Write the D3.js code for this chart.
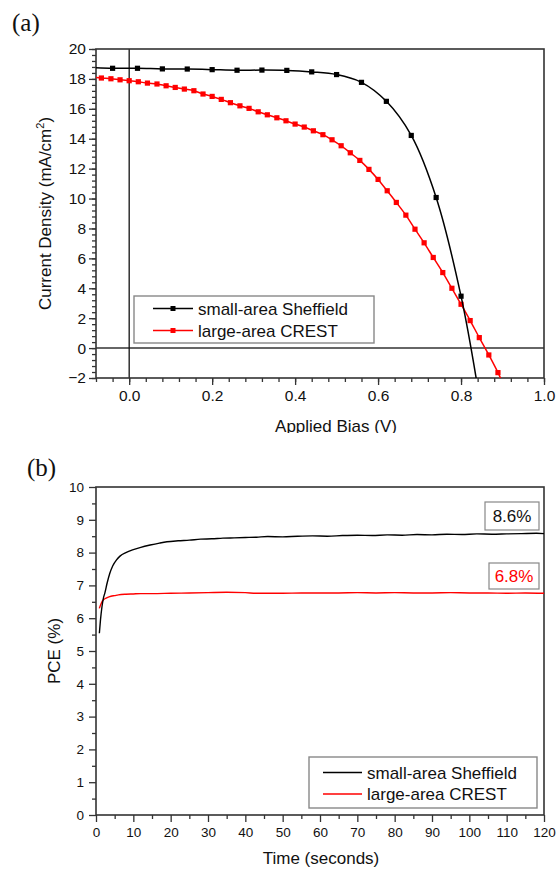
<!DOCTYPE html>
<html><head><meta charset="utf-8">
<script src="https://cdn.jsdelivr.net/npm/d3@7"></script>
<style>
body{margin:0;background:#fff;}
svg{font-family:"Liberation Sans",Arial,sans-serif;}
</style></head>
<body><svg id="c" width="556" height="869"></svg>
<script>
// ---------- Panel (a) data: J-V curves ----------
const seriesNames = ["small-area Sheffield", "large-area CREST"];
const seriesColors = ["#000000", "#ff0000"];

// small-area Sheffield: marker points
const sheffV = [-0.04, 0.02, 0.08, 0.14, 0.20, 0.26, 0.32, 0.38, 0.44, 0.50, 0.56, 0.62, 0.68, 0.74, 0.80];
const sheffJ = [18.71, 18.71, 18.67, 18.66, 18.62, 18.58, 18.59, 18.57, 18.47, 18.29, 17.77, 16.50, 14.22, 10.07, 3.47];
// line continues beyond markers at both ends
const sheffLineStart = [-0.08, 18.74];
const sheffLineEnd = [0.84, -2.6];

// large-area CREST
const crestV = [-0.067, -0.044, -0.022, 0.000, 0.022, 0.044, 0.067, 0.089, 0.111, 0.133, 0.156, 0.178, 0.200, 0.222, 0.244, 0.267, 0.289, 0.311, 0.333, 0.356, 0.378, 0.400, 0.422, 0.444, 0.467, 0.489, 0.511, 0.533, 0.556, 0.578, 0.600, 0.622, 0.644, 0.667, 0.689, 0.711, 0.733, 0.756, 0.778, 0.800, 0.822, 0.844, 0.867, 0.889];
const crestJ = [18.06, 18.01, 17.94, 17.88, 17.81, 17.72, 17.66, 17.54, 17.43, 17.32, 17.21, 16.99, 16.83, 16.63, 16.41, 16.20, 16.03, 15.80, 15.60, 15.40, 15.20, 14.98, 14.78, 14.53, 14.27, 13.93, 13.53, 13.06, 12.55, 11.95, 11.28, 10.52, 9.74, 8.89, 7.95, 7.04, 6.06, 5.05, 4.00, 2.93, 1.84, 0.70, -0.46, -1.64];
const crestLineStart = [-0.08, 18.10];
const crestLineEnd = [0.90, -2.3];

const xTicksA = [0.0, 0.2, 0.4, 0.6, 0.8, 1.0];
const yTicksA = [-2, 0, 2, 4, 6, 8, 10, 12, 14, 16, 18, 20];

// ---------- Panel (b) data: PCE vs time ----------
const sheffT = [0.9, 1.2, 1.6, 2.0, 2.4, 3.0, 3.7, 4.5, 5.5, 6.5, 8, 10, 12, 14.5, 17, 19, 22, 25, 28, 31, 34, 37, 40, 43, 46, 50, 54, 58, 62, 66, 70, 74, 78, 82, 86, 90, 94, 98, 102, 106, 110, 114, 118, 120];
const sheffPCE = [5.54, 5.95, 6.35, 6.62, 6.78, 7.08, 7.37, 7.60, 7.78, 7.90, 8.00, 8.09, 8.16, 8.23, 8.29, 8.33, 8.36, 8.38, 8.41, 8.42, 8.44, 8.45, 8.46, 8.47, 8.49, 8.48, 8.50, 8.51, 8.50, 8.52, 8.53, 8.52, 8.54, 8.53, 8.55, 8.54, 8.56, 8.55, 8.57, 8.56, 8.57, 8.58, 8.59, 8.58];
const crestT = [0.9, 1.5, 2.0, 2.5, 3.0, 4, 5, 6, 8, 10, 12, 15, 20, 25, 30, 35, 40, 43, 46, 50, 55, 60, 65, 70, 75, 80, 85, 90, 95, 100, 105, 110, 115, 120];
const crestPCE = [6.30, 6.48, 6.56, 6.60, 6.63, 6.67, 6.69, 6.71, 6.73, 6.74, 6.75, 6.75, 6.76, 6.77, 6.78, 6.79, 6.78, 6.76, 6.76, 6.76, 6.77, 6.77, 6.77, 6.78, 6.77, 6.78, 6.77, 6.77, 6.78, 6.77, 6.77, 6.76, 6.77, 6.76];
const xTicksB = [0, 10, 20, 30, 40, 50, 60, 70, 80, 90, 100, 110, 120];
const yTicksB = [0, 1, 2, 3, 4, 5, 6, 7, 8, 9, 10];
const finalLabels = ["8.6%", "6.8%"];

// ---------- drawing ----------
const svg = d3.select("#c");
const axisColor = "#333";
const serif = "'Liberation Serif','Times New Roman',serif";

function frame(g, x0, x1, y0, y1) {
  g.append("rect").attr("x", x0).attr("y", y0).attr("width", x1 - x0).attr("height", y1 - y0)
    .attr("fill", "none").attr("stroke", axisColor).attr("stroke-width", 1.6);
}
function styleAxis(sel, fs) {
  sel.select(".domain").remove();
  sel.selectAll(".tick line").attr("stroke", axisColor).attr("stroke-width", 1.3);
  sel.selectAll(".tick text").attr("fill", "#111").attr("font-size", fs)
     .attr("font-family", "'Liberation Sans',Arial,sans-serif");
}

// ===== Panel (a) =====
const A = {l: 96, r: 544, t: 49, b: 378};
const xA = d3.scaleLinear().domain([-0.08, 1.0]).range([A.l, A.r]);
const yA = d3.scaleLinear().domain([-2, 20]).range([A.b, A.t]);
const gA = svg.append("g");
svg.append("defs").append("clipPath").attr("id", "clipA")
  .append("rect").attr("x", A.l).attr("y", A.t).attr("width", A.r - A.l).attr("height", A.b - A.t);

// minor ticks
const minorXA = d3.range(-0.08, 1.0001, 0.04).map(v => +v.toFixed(2));
const minorYA = d3.range(-2, 20.0001, 0.4).map(v => +v.toFixed(1));
gA.append("g").attr("transform", `translate(0,${A.b})`)
  .call(d3.axisBottom(xA).tickValues(minorXA).tickSize(4).tickFormat(""))
  .call(s => styleAxis(s, 15));
gA.append("g").attr("transform", `translate(${A.l},0)`)
  .call(d3.axisLeft(yA).tickValues(minorYA).tickSize(4).tickFormat(""))
  .call(s => styleAxis(s, 15));
// major ticks
gA.append("g").attr("transform", `translate(0,${A.b})`)
  .call(d3.axisBottom(xA).tickValues(xTicksA).tickSize(7).tickPadding(5).tickFormat(d3.format(".1f")))
  .call(s => styleAxis(s, 15.5));
gA.append("g").attr("transform", `translate(${A.l},0)`)
  .call(d3.axisLeft(yA).tickValues(yTicksA).tickSize(7).tickPadding(3).tickFormat(d3.format("d")))
  .call(s => styleAxis(s, 15.5));

// zero lines
gA.append("line").attr("x1", A.l).attr("x2", A.r).attr("y1", yA(0)).attr("y2", yA(0))
  .attr("stroke", axisColor).attr("stroke-width", 1.5);
gA.append("line").attr("x1", xA(0)).attr("x2", xA(0)).attr("y1", A.t).attr("y2", A.b)
  .attr("stroke", "#111").attr("stroke-width", 1.3);

frame(gA, A.l, A.r, A.t, A.b);

const lineA = d3.line().x(d => xA(d[0])).y(d => yA(d[1])).curve(d3.curveCatmullRom.alpha(0.5));
const sheffPts = [sheffLineStart, ...sheffV.map((v, i) => [v, sheffJ[i]]), sheffLineEnd];
const crestPts = [crestLineStart, ...crestV.map((v, i) => [v, crestJ[i]]), crestLineEnd];
const plotA = gA.append("g").attr("clip-path", "url(#clipA)");
[[crestPts, crestV, crestJ, 1], [sheffPts, sheffV, sheffJ, 0]].forEach(([pts, vs, js, k]) => {
  plotA.append("path").attr("d", lineA(pts)).attr("fill", "none")
    .attr("stroke", seriesColors[k]).attr("stroke-width", 1.5);
  plotA.selectAll(null).data(vs).enter().append("rect")
    .attr("x", (d) => xA(d) - 2.6).attr("y", (d, i) => yA(js[i]) - 2.6)
    .attr("width", 5.2).attr("height", 5.2).attr("fill", seriesColors[k]);
});

// legend (a)
const legA = gA.append("g");
legA.append("rect").attr("x", 134).attr("y", 296).attr("width", 240).attr("height", 47)
  .attr("fill", "#fff").attr("stroke", "#888").attr("stroke-width", 1.4);
seriesNames.forEach((n, i) => {
  const yy = 308.5 + i * 22;
  legA.append("line").attr("x1", 153).attr("x2", 193).attr("y1", yy).attr("y2", yy)
    .attr("stroke", seriesColors[i]).attr("stroke-width", 1.5);
  legA.append("rect").attr("x", 170.5).attr("y", yy - 2.5).attr("width", 5).attr("height", 5)
    .attr("fill", seriesColors[i]);
  legA.append("text").attr("x", 198).attr("y", yy + 6).attr("font-size", 17).attr("fill", "#111").text(n);
});

// axis titles (a)
svg.append("defs").append("clipPath").attr("id", "clipTitleA")
  .append("rect").attr("x", 0).attr("y", 0).attr("width", 556).attr("height", 433);
svg.append("text").attr("x", (A.l + A.r) / 2 + 16).attr("y", 432).attr("text-anchor", "middle")
  .attr("font-size", 17).attr("fill", "#111").attr("clip-path", "url(#clipTitleA)").text("Applied Bias (V)");
const yt = svg.append("text").attr("transform", `translate(51,${(A.t + A.b) / 2}) rotate(-90)`)
  .attr("text-anchor", "middle").attr("font-size", 17).attr("fill", "#111");
yt.append("tspan").text("Current Density (mA/cm");
yt.append("tspan").attr("dy", -7).attr("font-size", 11).text("2");
yt.append("tspan").attr("dy", 7).text(")");

svg.append("text").attr("x", 12).attr("y", 31).style("font-family", serif)
  .attr("font-size", 25).attr("fill", "#111").text("(a)");

// ===== Panel (b) =====
const B = {l: 96, r: 544, t: 487, b: 815};
const xB = d3.scaleLinear().domain([0, 120]).range([B.l, B.r]);
const yB = d3.scaleLinear().domain([0, 10]).range([B.b, B.t]);
const gB = svg.append("g");
gB.append("g").attr("transform", `translate(0,${B.b})`)
  .call(d3.axisBottom(xB).tickValues(d3.range(5, 120, 10)).tickSize(4).tickFormat(""))
  .call(s => styleAxis(s, 13));
gB.append("g").attr("transform", `translate(${B.l},0)`)
  .call(d3.axisLeft(yB).tickValues(d3.range(0.5, 10, 1)).tickSize(4).tickFormat(""))
  .call(s => styleAxis(s, 13));
gB.append("g").attr("transform", `translate(0,${B.b})`)
  .call(d3.axisBottom(xB).tickValues(xTicksB).tickSize(7).tickPadding(5).tickFormat(d3.format("d")))
  .call(s => styleAxis(s, 13.5));
gB.append("g").attr("transform", `translate(${B.l},0)`)
  .call(d3.axisLeft(yB).tickValues(yTicksB).tickSize(7).tickPadding(5).tickFormat(d3.format("d")))
  .call(s => styleAxis(s, 13.5));
frame(gB, B.l, B.r, B.t, B.b);

const lineB = d3.line().x(d => xB(d[0])).y(d => yB(d[1])).curve(d3.curveMonotoneX);
gB.append("path").attr("d", lineB(crestT.map((t, i) => [t, crestPCE[i]])))
  .attr("fill", "none").attr("stroke", seriesColors[1]).attr("stroke-width", 1.4);
gB.append("path").attr("d", lineB(sheffT.map((t, i) => [t, sheffPCE[i]])))
  .attr("fill", "none").attr("stroke", seriesColors[0]).attr("stroke-width", 1.4);

// annotation boxes
[[485, 502, 54, 28, 0], [489, 563, 50, 26, 1]].forEach(([x, y, w, h, k]) => {
  gB.append("rect").attr("x", x).attr("y", y).attr("width", w).attr("height", h)
    .attr("fill", "#fff").attr("stroke", "#888").attr("stroke-width", 1.2);
  gB.append("text").attr("x", x + w / 2).attr("y", y + h / 2 + 6).attr("text-anchor", "middle")
    .attr("font-size", 17).attr("fill", k ? "#ff0000" : "#111").text(finalLabels[k]);
});

// legend (b)
const legB = gB.append("g");
legB.append("rect").attr("x", 309).attr("y", 757).attr("width", 228).attr("height", 51)
  .attr("fill", "#fff").attr("stroke", "#888").attr("stroke-width", 1.4);
seriesNames.forEach((n, i) => {
  const yy = 772.5 + i * 21.5;
  legB.append("line").attr("x1", 323).attr("x2", 362).attr("y1", yy).attr("y2", yy)
    .attr("stroke", seriesColors[i]).attr("stroke-width", 1.5);
  legB.append("text").attr("x", 367).attr("y", yy + 6).attr("font-size", 17).attr("fill", "#111").text(n);
});

svg.append("text").attr("x", (B.l + B.r) / 2 + 1).attr("y", 864).attr("text-anchor", "middle")
  .attr("font-size", 17).attr("fill", "#111").text("Time (seconds)");
svg.append("text").attr("transform", `translate(60,${(B.t + B.b) / 2}) rotate(-90)`)
  .attr("text-anchor", "middle").attr("font-size", 17).attr("fill", "#111").text("PCE (%)");
svg.append("text").attr("x", 27).attr("y", 476).style("font-family", serif)
  .attr("font-size", 25).attr("fill", "#111").text("(b)");
</script></body></html>
